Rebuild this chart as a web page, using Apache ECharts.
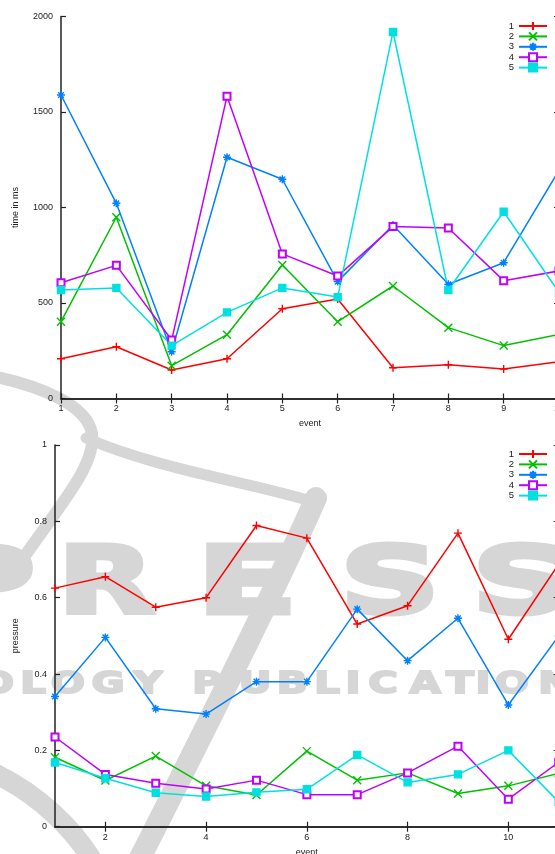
<!DOCTYPE html>
<html>
<head>
<meta charset="utf-8">
<script src="https://cdn.jsdelivr.net/npm/echarts@6/dist/echarts.min.js"></script>
<style>
  html, body { margin: 0; padding: 0; background: #fff; }
  #chart { width: 555px; height: 854px; }
</style>
</head>
<body>
<div id="chart"></div>
<script>
// ---- data -------------------------------------------------------------
const seriesNames = ['1', '2', '3', '4', '5'];

// upper plot: time per event (ms)
const timeEvents = [1, 2, 3, 4, 5, 6, 7, 8, 9, 10];
const time1 = [208, 271, 149, 208, 470, 521, 161, 177, 154, 193];
const time2 = [402, 949, 172, 334, 699, 402, 589, 371, 277, 335];
const time3 = [1589, 1022, 245, 1263, 1148, 612, 908, 598, 711, 1195];
const time4 = [606, 697, 306, 1582, 757, 641, 900, 893, 617, 668];
const time5 = [568, 579, 277, 451, 579, 531, 1919, 568, 978, 555];

// lower plot: pressure per event
const pressureEvents = [1, 2, 3, 4, 5, 6, 7, 8, 9, 10, 11];
const pressure1 = [0.625, 0.655, 0.575, 0.600, 0.789, 0.756, 0.531, 0.579, 0.769, 0.491, 0.688];
const pressure2 = [0.182, 0.121, 0.185, 0.107, 0.083, 0.198, 0.122, 0.141, 0.087, 0.107, 0.140];
const pressure3 = [0.341, 0.496, 0.309, 0.295, 0.380, 0.380, 0.570, 0.435, 0.546, 0.319, 0.500];
const pressure4 = [0.235, 0.137, 0.114, 0.099, 0.122, 0.084, 0.084, 0.141, 0.211, 0.072, 0.169];
const pressure5 = [0.168, 0.127, 0.089, 0.079, 0.090, 0.098, 0.188, 0.116, 0.137, 0.200, 0.065];

// axis ticks
const timeTicks = { min: 0, max: 2000, interval: 500 };
const pressureTicks = { min: 0, max: 1, interval: 0.2 };
const pressureEventLabels = [2, 4, 6, 8, 10];

// ---- styling ----------------------------------------------------------
const colors = ['#ff0000', '#00c000', '#0080ff', '#c000ff', '#00e0e0'];
const symbols = [
  'path://M0,4H8M4,0V8',                          // plus
  'path://M0,0L8,8M8,0L0,8',                      // cross
  'path://M0,4H8M4,0V8M1.2,1.2L6.8,6.8M6.8,1.2L1.2,6.8', // star
  'emptyRect',
  'rect'
];
const symbolSizes = [8, 8, 8, 7, 7];
const FONT = '"Liberation Sans", Arial, sans-serif';
const INK = '#222';

function pairs(xs, ys) { return xs.map((x, i) => [x, ys[i]]); }

function lineSeries(idx, xs, ys, axisIdx) {
  return {
    name: seriesNames[idx],
    type: 'line',
    xAxisIndex: axisIdx.x,
    yAxisIndex: axisIdx.y,
    data: pairs(xs, ys),
    symbol: symbols[idx],
    symbolSize: symbolSizes[idx],
    showAllSymbol: true,
    animation: false,
    color: colors[idx],
    lineStyle: { color: colors[idx], width: 1.5 },
    itemStyle: { color: colors[idx], borderColor: colors[idx], borderWidth: 1.4 },
    emphasis: { disabled: true }
  };
}

const plain = v => String(v);
const axisLine = { show: true, lineStyle: { color: INK, width: 1.5 } };
const tickStyle = { show: true, inside: true, length: 5, lineStyle: { color: INK, width: 1.2 } };
const labelStyle = { fontFamily: FONT, fontSize: 9, color: INK };

function xAxes(gridIndex, range, labelValues, name) {
  const base = {
    type: 'value', gridIndex, min: range.min, max: range.max,
    splitLine: { show: false }, axisLine
  };
  const tick = Object.assign({}, tickStyle);
  const label = Object.assign({ show: true, margin: 6, formatter: plain }, labelStyle);
  if (range.interval) base.interval = range.interval;
  if (labelValues) { tick.customValues = labelValues; label.customValues = labelValues; }
  return [
    Object.assign({}, base, {
      position: 'bottom', axisTick: tick, axisLabel: label,
      name, nameLocation: 'middle', nameGap: 21, nameMoveOverlap: false,
      nameTextStyle: labelStyle
    }),
    Object.assign({}, base, {
      position: 'top', axisTick: tick, axisLabel: { show: false }
    })
  ];
}

function yAxes(gridIndex, range, name, gap) {
  const base = {
    type: 'value', gridIndex, min: range.min, max: range.max, interval: range.interval,
    splitLine: { show: false }, axisLine, axisTick: tickStyle
  };
  return [
    Object.assign({}, base, {
      position: 'left',
      axisLabel: Object.assign({ margin: 8, formatter: plain }, labelStyle),
      name, nameLocation: 'middle', nameRotate: 90, nameGap: gap, nameMoveOverlap: false,
      nameTextStyle: labelStyle
    }),
    Object.assign({}, base, { position: 'right', axisLabel: { show: false } })
  ];
}

function legend(top) {
  return {
    data: seriesNames,
    orient: 'vertical',
    right: 7,
    top,
    align: 'right',
    itemWidth: 28,
    itemHeight: 10,
    itemGap: 0.4,
    selectedMode: false,
    textStyle: { fontFamily: FONT, fontSize: 9.5, color: INK, lineHeight: 10 },
    padding: 0
  };
}

// ---- faint publisher mark behind the plots -----------------------------
const MARK = '#d6d6d6';
const bigLetters = [
  { t: 'P', x: -14, s: 1.45 }, { t: 'R', x: 106, s: 1.35 }, { t: 'E', x: 247, s: 1.6 },
  { t: 'S', x: 390, s: 1.5 }, { t: 'S', x: 522, s: 1.5 }
];
const smallLetters = [
  { t: 'O', x: -3 }, { t: 'L', x: 33 }, { t: 'O', x: 68 }, { t: 'G', x: 108 }, { t: 'Y', x: 148 },
  { t: 'P', x: 207 }, { t: 'U', x: 255 }, { t: 'B', x: 292 }, { t: 'L', x: 327 }, { t: 'I', x: 353 },
  { t: 'C', x: 383 }, { t: 'A', x: 425 }, { t: 'T', x: 460 }, { t: 'I', x: 483 }, { t: 'O', x: 512 },
  { t: 'N', x: 555 }
];
function curve(p, w) {
  return {
    type: 'bezierCurve', z: -20, silent: true,
    shape: { x1: p[0], y1: p[1], cpx1: p[2], cpy1: p[3], cpx2: p[4], cpy2: p[5], x2: p[6], y2: p[7] },
    style: { stroke: MARK, lineWidth: w, fill: null, lineCap: 'round' }
  };
}
const markGraphics = [
  curve([-8, 376, 40, 386, 88, 405, 92, 434], 12),
  curve([92, 434, 96, 465, 60, 505, 22, 560], 12),
  curve([86, 438, 160, 470, 250, 482, 314, 502], 11),
  curve([316, 498, 280, 580, 210, 720, 136, 866], 22),
  curve([-8, 772, 40, 795, 75, 830, 96, 866], 20)
].concat(bigLetters.map(l => ({
  type: 'text', z: -19, silent: true, x: l.x, y: 589, scaleX: l.s,
  style: {
    text: l.t, fill: MARK, stroke: MARK, lineWidth: 5, lineJoin: 'round',
    font: 'bold 92px "DejaVu Sans"', align: 'center', verticalAlign: 'middle'
  }
}))).concat(smallLetters.map(l => ({
  type: 'text', z: -19, silent: true, x: l.x, y: 685, scaleX: 1.3,
  style: {
    text: l.t, fill: MARK, stroke: MARK, lineWidth: 2, lineJoin: 'round',
    font: 'bold 31px "DejaVu Sans"', align: 'center', verticalAlign: 'middle'
  }
})));

// ---- chart ------------------------------------------------------------
const chart = echarts.init(document.getElementById('chart'), null, { renderer: 'canvas' });

const topX = xAxes(0, { min: 1, max: 10, interval: 1 }, null, 'event');
const botX = xAxes(1, { min: 1, max: 11 }, pressureEventLabels, 'event');
const topY = yAxes(0, timeTicks, 'time in ms', 41);
const botY = yAxes(1, pressureTicks, 'pressure', 35);

const timeData = [time1, time2, time3, time4, time5];
const pressureData = [pressure1, pressure2, pressure3, pressure4, pressure5];

chart.setOption({
  animation: false,
  backgroundColor: '#fff',
  textStyle: { fontFamily: FONT },
  grid: [
    { left: 61, top: 16.5, width: 498, height: 382, outerBoundsMode: 'none', containLabel: false },
    { left: 55, top: 445, width: 503.7, height: 381.7, outerBoundsMode: 'none', containLabel: false }
  ],
  xAxis: topX.concat(botX),
  yAxis: topY.concat(botY),
  legend: [legend(21), legend(449)],
  graphic: { elements: markGraphics },
  series: timeData.map((d, i) => lineSeries(i, timeEvents, d, { x: 0, y: 0 }))
    .concat(pressureData.map((d, i) => lineSeries(i, pressureEvents, d, { x: 2, y: 2 })))
});
</script>
</body>
</html>
